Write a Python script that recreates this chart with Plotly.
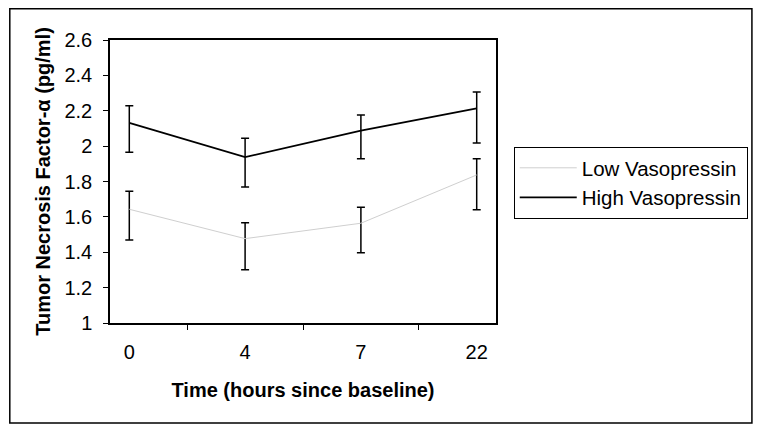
import plotly.graph_objects as go

# horas desde la medicion basal
horas = ["0", "4", "7", "22"]

baja_vaso = [1.643, 1.477, 1.564, 1.837]
baja_err_sup = [0.102, 0.090, 0.091, 0.092]
baja_err_inf = [0.174, 0.176, 0.167, 0.197]

alta_vaso = [2.132, 1.938, 2.087, 2.214]
alta_err_sup = [0.096, 0.106, 0.089, 0.092]
alta_err_inf = [0.167, 0.169, 0.158, 0.197]

fuente = "Liberation Sans, Arial, sans-serif"

fig = go.Figure()

fig.add_trace(go.Scatter(
    x=horas, y=baja_vaso, mode="lines", name="Low Vasopressin",
    line=dict(color="#cfcfcf", width=1),
    error_y=dict(type="data", symmetric=False, array=baja_err_sup, arrayminus=baja_err_inf,
                 color="black", thickness=1.5, width=4),
    legendgroup="a",
))
fig.add_trace(go.Scatter(
    x=horas, y=alta_vaso, mode="lines", name="High Vasopressin",
    line=dict(color="black", width=1.8),
    error_y=dict(type="data", symmetric=False, array=alta_err_sup, arrayminus=alta_err_inf,
                 color="black", thickness=1.5, width=4),
    legendgroup="b",
))

# marco exterior del grafico
fig.add_shape(type="rect", xref="paper", yref="paper",
              x0=-0.2596, x1=1.663, y0=-0.353, y1=1.110,
              line=dict(color="black", width=1.5))

fig.update_layout(
    width=752, height=416,
    margin=dict(l=102, r=261, t=32, b=101),
    paper_bgcolor="white", plot_bgcolor="white",
    font=dict(family=fuente, size=20, color="black"),
    legend=dict(x=1.046, y=0.622, xanchor="left", yanchor="top",
                bordercolor="black", borderwidth=1, itemwidth=57,
                traceorder="grouped", tracegroupgap=0,
                font=dict(size=20.5)),
    xaxis=dict(type="category", showline=True, linecolor="black", linewidth=1.5,
               mirror=True, ticks="outside", tickson="boundaries", ticklen=5,
               tickcolor="black", showgrid=False, ticklabelstandoff=10,
               title=dict(text="<b>Time (hours since baseline)</b>", font=dict(size=20), standoff=21)),
    yaxis=dict(range=[1, 2.6], dtick=0.2, showline=True, linecolor="black", linewidth=1.5,
               mirror=True, ticks="outside", ticklen=5, tickcolor="black",
               showgrid=False, zeroline=False, ticklabelstandoff=7,
               title=dict(text="<b>Tumor Necrosis Factor-α (pg/ml)</b>", font=dict(size=20), standoff=8)),
)

fig.write_html("out.html")
